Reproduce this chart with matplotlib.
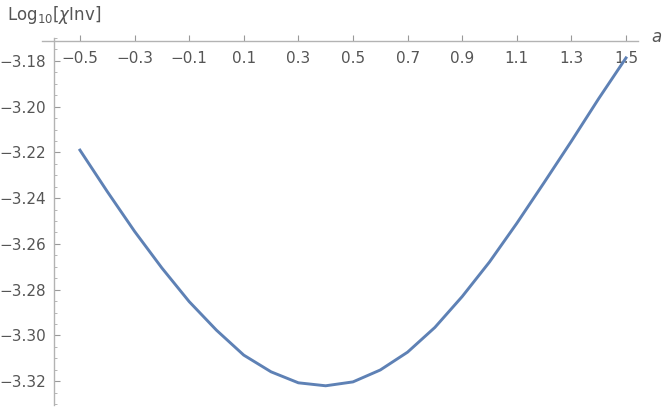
import matplotlib
matplotlib.use("Agg")
import matplotlib.pyplot as plt
import numpy as np

a_vals = [-0.5, -0.4, -0.3, -0.2, -0.1, 0.0, 0.1, 0.2, 0.3, 0.4, 0.5,
          0.6, 0.7, 0.8, 0.9, 1.0, 1.1, 1.2, 1.3, 1.4, 1.5]
log_chi = [-3.2190, -3.2371, -3.2545, -3.2705, -3.2852, -3.2977, -3.3086,
           -3.3159, -3.3207, -3.3220, -3.3203, -3.3151, -3.3073, -3.2965,
           -3.2830, -3.2679, -3.2510, -3.2332, -3.2151, -3.1965, -3.1787]
x_ticks = [-0.5, -0.3, -0.1, 0.1, 0.3, 0.5, 0.7, 0.9, 1.1, 1.3, 1.5]
y_ticks = [-3.18, -3.20, -3.22, -3.24, -3.26, -3.28, -3.30, -3.32]

W, H = 664, 407
fig = plt.figure(figsize=(W / 100, H / 100), dpi=100)
x0, x1, ytop, ybot = 42, 638, 38, 405
ax = fig.add_axes([x0 / W, (H - ybot) / H, (x1 - x0) / W, (ybot - ytop) / H])

xmin, xmax = -0.639, 1.544
ymin, ymax = -3.3304, -3.1713
ax.set_xlim(xmin, xmax)
ax.set_ylim(ymin, ymax)

ax.plot(a_vals, log_chi, color='#5E81B5', lw=2.1, solid_joinstyle='round')

axis_col = '#b3b3b3'
text_col = '#555555'
for s in ['top', 'right']:
    ax.spines[s].set_visible(False)
ax.spines['bottom'].set_position(('data', ymax))
ax.spines['left'].set_position(('data', -0.595))
for s in ['bottom', 'left']:
    ax.spines[s].set_color(axis_col)
    ax.spines[s].set_linewidth(1.0)

ax.set_xticks(x_ticks)
ax.set_xticklabels([f'{v:.1f}'.replace('-', '\u2212') for v in x_ticks])
ax.set_yticks(y_ticks)
ax.set_yticklabels([f'{v:.2f}'.replace('-', '\u2212') for v in y_ticks])
ax.set_yticks(np.arange(-3.330, -3.170, 0.005), minor=True)

ax.tick_params(axis='x', direction='in', length=4, width=0.8, color='#999999',
               labelsize=11, labelcolor=text_col, pad=7.5)
ax.tick_params(axis='y', which='major', direction='in', length=4.5, width=0.8,
               color='#999999', labelsize=11, labelcolor=text_col, pad=6)
ax.tick_params(axis='y', which='minor', direction='in', length=2.5, width=0.6,
               color='#aaaaaa')

fig.text(7 / W, 1 - 20 / H, r'Log$_{10}$[$\chi$Inv]', fontsize=12,
         color=text_col, ha='left', va='baseline')
fig.text(651 / W, 1 - 37 / H, 'a', fontsize=12, style='italic',
         color=text_col, ha='left', va='center')

fig.savefig('out.png', dpi=100)
